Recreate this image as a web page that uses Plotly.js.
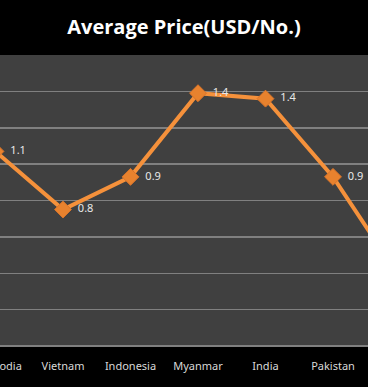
<!DOCTYPE html>
<html>
<head>
<meta charset="utf-8">
<script src="https://cdn.plot.ly/plotly-3.0.1.min.js"></script>
<style>
  html, body { margin: 0; padding: 0; background: #ffffff; overflow: hidden; width: 368px; height: 389px; }
  #chart { position: absolute; left: -40px; top: 0; width: 468px; height: 387px; }
</style>
</head>
<body>
<div id="chart"></div>
<script>
const categories = ['Cambodia', 'Vietnam', 'Indonesia', 'Myanmar', 'India', 'Pakistan', 'Sri Lanka'];
const avgPrice = [1.07, 0.75, 0.93, 1.39, 1.36, 0.93, 0.37];
const visibleTicks = ['Cambodia', 'Vietnam', 'Indonesia', 'Myanmar', 'India', 'Pakistan'];

const labelTemplates = avgPrice.map((v, i) => i < visibleTicks.length ? '  %{y:.1f}' : '');

const trace = {
  type: 'scatter',
  mode: 'lines+markers+text',
  x: categories,
  y: avgPrice,
  texttemplate: labelTemplates,
  textposition: 'middle right',
  textfont: { family: 'Noto Sans, DejaVu Sans, sans-serif', size: 11, color: '#e8e8e8' },
  line: { color: '#f5913b', width: 4 },
  marker: { symbol: 'diamond', size: 13, color: '#e8822e', line: { color: '#d9742a', width: 1 } },
  cliponaxis: false,
  hoverinfo: 'skip'
};

const layout = {
  width: 468,
  height: 387,
  paper_bgcolor: '#000000',
  plot_bgcolor: '#404040',
  margin: { l: 0, r: 0, t: 55, b: 41, pad: 0 },
  showlegend: false,
  title: {
    text: '<b>Average Price(USD/No.)</b>',
    font: { family: 'Open Sans, sans-serif', size: 20, color: '#ffffff' },
    xref: 'container', x: 224 / 468, xanchor: 'center',
    yref: 'container', y: 1 - 27 / 387, yanchor: 'middle'
  },
  xaxis: {
    type: 'category',
    range: [-35.5 / 67.5, (468 - 35.5) / 67.5],
    tickmode: 'array',
    tickvals: visibleTicks,
    ticktext: visibleTicks,
    ticklabelstandoff: 12,
    showgrid: false,
    zeroline: false,
    showline: false,
    ticks: '',
    tickfont: { family: 'Noto Sans, DejaVu Sans, sans-serif', size: 11, color: '#d9d9d9' },
    fixedrange: true
  },
  yaxis: {
    range: [0, 1.6],
    dtick: 0.2,
    showgrid: true,
    gridcolor: '#808080',
    gridwidth: 1.5,
    zeroline: true,
    zerolinecolor: '#808080',
    zerolinewidth: 1.5,
    showticklabels: false,
    ticks: '',
    showline: false,
    fixedrange: true
  }
};

Plotly.newPlot('chart', [trace], layout, { staticPlot: true, displayModeBar: false });
</script>
</body>
</html>
